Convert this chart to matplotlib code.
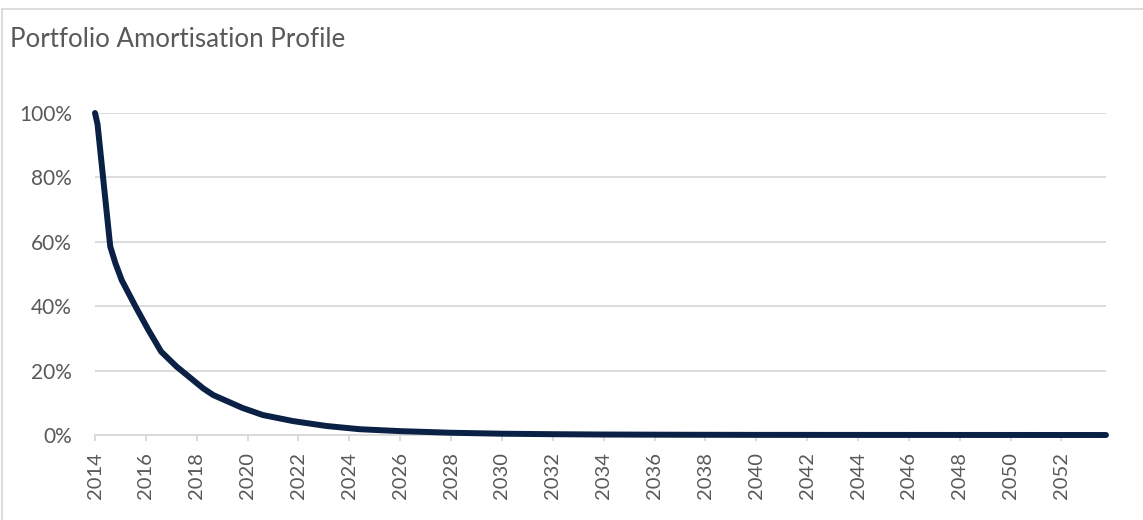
import matplotlib
matplotlib.use("Agg")
import matplotlib.pyplot as plt
from matplotlib.lines import Line2D
from matplotlib.ticker import FuncFormatter

plt.rcParams['font.family'] = ['Lato', 'DejaVu Sans']

# Données (année, % restant)
years = [2014.0, 2014.1, 2014.6, 2014.8, 2015.05, 2015.6, 2016.1, 2016.6, 2017.2,
         2018.25, 2018.65, 2019.8, 2020.6, 2021.8, 2023.1, 2024.4, 2026.0, 2028.0,
         2030.0, 2032.0, 2034.0, 2037.0, 2040.0, 2045.0, 2050.0, 2053.75]
remaining = [100, 96.5, 58.5, 53.4, 48.1, 39.8, 32.6, 25.9, 21.3,
             14.5, 12.4, 8.4, 6.2, 4.3, 2.8, 1.8, 1.2, 0.7,
             0.4, 0.25, 0.15, 0.08, 0.04, 0.02, 0.01, 0.0]
tick_years = list(range(2014, 2053, 2))
y_ticks = [0, 20, 40, 60, 80, 100]

grey = '#595959'
grid = '#d9d9d9'
W, H = 1143, 520

fig = plt.figure(figsize=(W / 100, H / 100), dpi=100)
ax = fig.add_axes([95 / W, 1 - 435 / H, (1106 - 95) / W, (435 - 113) / H])

ax.plot(years, remaining, color='#0a2145', linewidth=4.3, solid_capstyle='round',
        solid_joinstyle='round', zorder=3, clip_on=False)

ax.set_xlim(2014, 2053.75)
ax.set_ylim(0, 100)
ax.set_yticks(y_ticks)
ax.yaxis.set_major_formatter(FuncFormatter(lambda v, p: f"{v:.0f}%"))
ax.set_xticks(tick_years)
ax.set_xticklabels([str(y) for y in tick_years], rotation=90)

ax.grid(axis='y', color=grid, linewidth=1.3)
ax.set_axisbelow(True)
for s in ['top', 'right', 'left']:
    ax.spines[s].set_visible(False)
ax.spines['bottom'].set_color(grid)
ax.spines['bottom'].set_linewidth(1.3)
ax.tick_params(axis='y', length=0, pad=16.5, labelsize=15, labelcolor=grey)
ax.tick_params(axis='x', length=4.5, width=1.3, color=grid, pad=8, labelsize=14.5, labelcolor=grey)

fig.text(10 / W, 1 - 47 / H, 'Portfolio Amortisation Profile', fontsize=18.6, color=grey,
         ha='left', va='baseline')

# Cadre du graphique
fig.add_artist(Line2D([2 / W, 1], [1 - 9 / H, 1 - 9 / H], color=grid, linewidth=1.3))
fig.add_artist(Line2D([2 / W, 2 / W], [0, 1 - 9 / H], color=grid, linewidth=1.3))

fig.savefig('out.png', dpi=100)
